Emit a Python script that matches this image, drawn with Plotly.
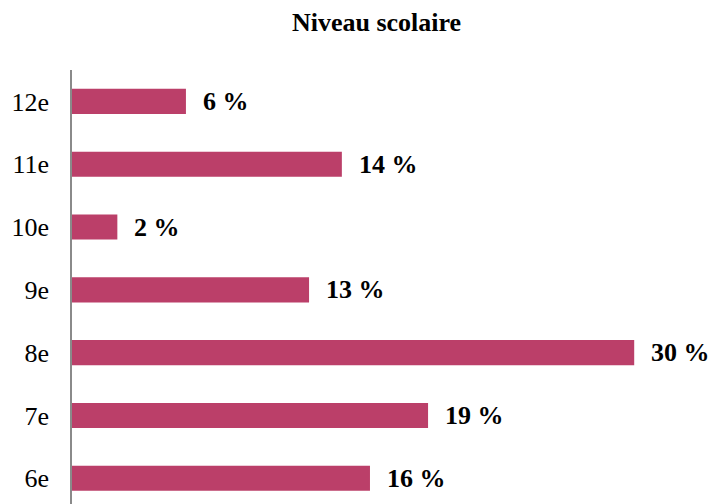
import plotly.graph_objects as go

categories = ["6e", "7e", "8e", "9e", "10e", "11e", "12e"]
values = [15.9, 19.0, 30.0, 12.65, 2.42, 14.4, 6.08]
labels = ["16 %", "19 %", "30 %", "13 %", "2 %", "14 %", "6 %"]

BAR_COLOR = "#BB3F69"
FONT = "Liberation Serif"
OFF = 8  # page body margin
W, H = 718 - OFF, 504 - OFF

fig = go.Figure()
fig.add_trace(go.Bar(
    x=values, y=categories, orientation="h",
    marker=dict(color=BAR_COLOR, line=dict(width=0)),
    width=0.4, hoverinfo="skip",
))

annotations = []
for c, v, t in zip(categories, values, labels):
    annotations.append(dict(
        x=v, y=c, xref="x", yref="y", text=f"<b>{t}</b>", showarrow=False,
        xanchor="left", yanchor="middle", xshift=15,
        font=dict(family=FONT, size=26, color="#000000"),
    ))

fig.update_layout(
    width=W, height=H,
    margin=dict(l=72 - OFF, r=0, t=70 - OFF, b=0, pad=0),
    paper_bgcolor="white", plot_bgcolor="white",
    showlegend=False,
    title=dict(
        text="<b>Niveau scolaire</b>",
        font=dict(family=FONT, size=26, color="#000000"),
        x=(376.5 - OFF) / W, xanchor="center", xref="container",
        y=1 - (22 - OFF) / H, yanchor="middle", yref="container",
    ),
    annotations=annotations,
    xaxis=dict(range=[0, (718 - 72) / 18.74], visible=False, showgrid=False, zeroline=False),
    yaxis=dict(
        type="category", categoryorder="array", categoryarray=categories,
        range=[-0.41, 6.5],
        showline=True, linecolor="#8A8A8A", linewidth=1.5,
        showgrid=False, zeroline=False,
        ticks="outside", ticklen=0, ticklabelstandoff=16,
        tickfont=dict(family=FONT, size=26, color="#000000"),
    ),
)

fig.write_html("out.html")
